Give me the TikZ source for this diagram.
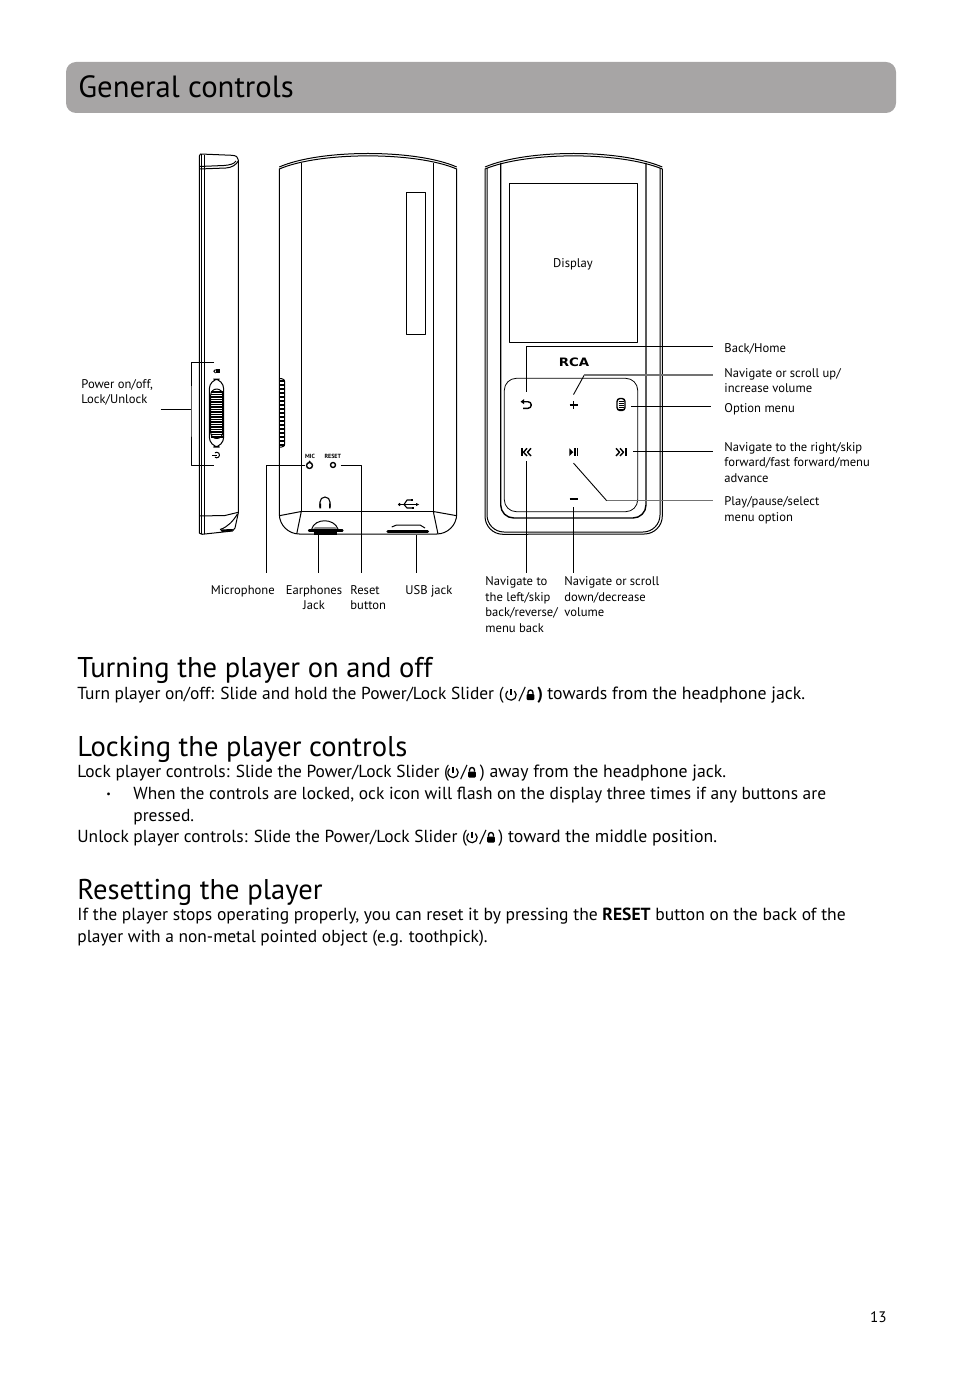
\documentclass[tikz,border=0pt]{standalone}
\usepackage{fontspec}
\setmainfont{PT Sans}
\newfontfamily\logofont[FakeStretch=1.15]{DejaVu Sans Bold}
\usetikzlibrary{calc,arrows.meta}
\newcommand{\labelfont}{\fontsize{6.3}{7.7}\selectfont}
\newcommand{\bodyfont}{\fontsize{8.7}{11}\selectfont}
\newcommand{\tailfont}{\fontsize{8.87}{11}\selectfont}
\newcommand{\headfont}{\fontsize{14.3}{18}\selectfont}
% power and lock signs in the running text
\newcommand{\powerlock}[4]{%
  \draw[line width=0.6pt] ($(#1,#2)+(-50:5.2)$) arc (-50:230:5.2);
  \draw[line width=0.6pt] (#1,#2-6) -- (#1,#2);
  \fill[rounded corners=0.5pt] (#3-3.8,#2-1) rectangle (#3+3.8,#2+5);
  \draw[line width=0.7pt] (#3-2.5,#2-1) -- (#3-2.5,#2-2.5) arc (180:360:2.5) -- (#3+2.5,#2-1);
  \node[bodytext, anchor=center] (#4) at (#1*0.42+#3*0.58,#2) {/};
}
\tikzset{
  bodytext/.style={anchor=base west, inner sep=0pt, font=\bodyfont},
  tailtext/.style={anchor=base west, inner sep=0pt, font=\tailfont},
  headtext/.style={anchor=base west, inner sep=0pt, font=\headfont},
  calltext/.style={anchor=west, inner sep=0pt, align=left, font=\labelfont},
  outline/.style={line width=0.5pt},
  leader/.style={line width=0.45pt},
  paleleader/.style={line width=0.6pt, black!55},
  btn/.style={inner sep=0pt, minimum size=#1},
}
\begin{document}
\begin{tikzpicture}[x=0.5pt, y=-0.5pt, line join=round]
  \useasboundingbox (0,0) rectangle (954,1374);

  % --- title bar ---
  \fill[rounded corners=5pt, fill={rgb,255:red,167;green,165;blue,165}] (66,62) rectangle (896,113);
  \node[headtext, font=\fontsize{15.36}{18}\selectfont] (title) at (78,98) {General controls};

  % --- side view ---
  \draw[outline] (199.3,156) -- (200.5,154) -- (232,155.3) .. controls (236,155.5) and (238.3,157) .. (238.3,160)
    -- (238.3,513) -- (235,528) -- (232.5,531) -- (202,534.3) -- (199.3,533) -- cycle;
  \draw[outline] (201.7,154.5) -- (201.7,534);
  \draw[outline] (204,155) -- (204,533.8);
  \draw[outline] (199.3,166.5) -- (224,165.5) .. controls (230,165) and (234,164) .. (236,161);
  \draw[outline] (199.3,169) -- (226,168) .. controls (232,167.5) and (236,165) .. (238.3,161);
  \draw[outline] (199.3,516) -- (225,515.5) -- (238.3,512.3);
  \draw[outline] (220,529.5) .. controls (228,527) and (233,521) .. (237.5,514);
  \fill (220,529.5) -- (233,529) -- (232,531) -- (222,532) -- cycle;
  % --- slider ---
  \draw[outline, rounded corners=5pt] (209.3,379) rectangle (223.7,447);
  \draw[outline, rounded corners=3pt] (210.7,389) rectangle (222.7,438.5);
  \foreach \ribY in {392,394.5,...,437}
    \draw[line width=0.6pt] (210.7,\ribY) -- (222.7,\ribY);
  % --- lock and power marks ---
  \fill (215.5,369) rectangle (219.5,373.3);
  \draw[line width=0.5pt] (215.5,369.6) arc (-90:-270:1.7);
  \draw[line width=0.5pt] ($(216.7,455)+(-130:2.8)$) arc (-130:130:2.8);
  \draw[line width=0.5pt] (212,455) -- (217,455);

  % --- back view ---
  \draw[outline] (279.3,169) .. controls (320,151.5) and (416,151.5) .. (456.7,169)
    -- (456.7,514) arc (0:90:20) -- (299.3,534) arc (90:180:20) -- cycle;
  \draw[outline] (279.3,167) .. controls (320,149) and (416,149) .. (456.7,167);
  \draw[outline] (301.3,163) -- (301.3,511.5) -- (433.3,511.5) -- (433.3,163);
  \draw[outline] (279.3,515.7) -- (301.3,511.5) -- (296.7,534);
  \draw[outline] (456.7,515.7) -- (433.3,511.5) -- (438,534);
  \draw[outline] (406.7,192.3) rectangle (425.7,334.3);
  % --- grille ---
  \draw[outline, rounded corners=1.5pt] (279.3,378.7) -- (284.7,378.7) -- (284.7,447) -- (279.3,447);
  \foreach \ribY in {381,385,...,446}
    \draw[line width=0.7pt] (279.3,\ribY) -- (284.7,\ribY);
  % --- mic, reset ---
  \node[inner sep=0pt, font=\fontsize{3}{3}\selectfont\bfseries] (mictext) at (310,456) {MIC};
  \node[inner sep=0pt, font=\fontsize{3}{3}\selectfont\bfseries] (resettext) at (332.8,456) {RESET};
  \draw[line width=0.7pt] (309.5,465.5) circle (3);
  \fill (309.5,461.5) circle (1);
  \draw[line width=0.7pt] (333,465) circle (2.5);
  % --- headphone sign, usb sign ---
  \draw[line width=0.55pt] (320,507) -- (320,502) arc (180:360:5) -- (330,507);
  \fill (319.3,503.5) rectangle (321,508.3) (329,503.5) rectangle (330.7,508.3);
  \draw[line width=0.55pt] (400,504.5) -- (417,504.5);
  \draw[line width=0.55pt] (404,504.5) -- (407,500) -- (411,500);
  \draw[line width=0.55pt] (404,504.5) -- (407,508) -- (412,508);
  \fill (399.5,504.5) circle (1.6);
  \fill (411,499) rectangle (413,501);
  \fill (412,507) rectangle (414,509);
  \fill (416,503) -- (419,504.5) -- (416,506) -- cycle;
  % --- jacks ---
  \fill[black!45] (313,529) -- (337,529) -- (335,527) -- (315,527) -- cycle;
  \draw[outline] (311.7,529) .. controls (315,518) and (334,518) .. (338,529);
  \draw[line width=1.1pt, line cap=round] (309,530.5) -- (342.5,530.5);
  \draw[line width=1.1pt] (313.5,533.5) -- (336.5,533.5);
  \draw[outline] (391.7,527) -- (396.7,525) -- (420,525) -- (425,528);
  \draw[line width=1.7pt, line cap=round] (388,531.5) -- (427.5,531.5);

  % --- front view ---
  \draw[outline] (485,169) .. controls (527,151.5) and (620,151.5) .. (662.3,169)
    -- (662.3,516) arc (0:90:18) -- (503,534.3) arc (90:180:18) -- cycle;
  \draw[outline] (485,167) .. controls (527,149) and (620,149) .. (662.3,167);
  \draw[outline] (487,168) -- (487,515) arc (180:90:17) -- (643,532) arc (90:0:17) -- (660,168);
  \draw[line width=0.7pt] (500.7,163) -- (500.7,505) arc (180:90:13) -- (633,518) arc (90:0:13) -- (646,163);
  \draw[outline] (509.3,183.3) rectangle (637.7,342.3);
  \node[inner sep=0pt, font=\fontsize{5.8}{6}\selectfont\logofont] (logo) at (574,362) {RCA};
  \draw[line width=0.4pt, rounded corners=6pt] (504.3,378.3) rectangle (637.7,511.7);
  \node[calltext, anchor=center] (display) at (573,264) {Display};

  % --- buttons ---
  \node[btn=12.7pt] (btnback) at (526.5,405) {};
  \node[btn=10pt] (btnplus) at (573.5,405) {};
  \node[btn=10pt] (btnmenu) at (621,406.3) {};
  \node[btn=8.7pt] (btnprev) at (526.5,452) {};
  \node[btn=10.7pt] (btnplay) at (573.5,452) {};
  \node[btn=12pt] (btnnext) at (621,451.7) {};
  \node[btn=7.7pt] (btnminus) at (573.3,499) {};
  \draw[line width=0.7pt] (523,401.7) -- (528,401.7) arc (-90:90:3.3) -- (523,408.3);
  \fill (520.5,401.7) -- (524,399.2) -- (524,404.2) -- cycle;
  \draw[line width=0.7pt] (569.5,405) -- (577.5,405) (573.5,401) -- (573.5,409);
  \draw[line width=0.7pt, rounded corners=1.5pt] (617,398.5) rectangle (625,410.5);
  \foreach \rowY in {401,403,405,407,409}
    \draw[line width=0.45pt] (618.5,\rowY) -- (623.5,\rowY);
  \draw[line width=0.8pt] (521.7,448.3) -- (521.7,456);
  \draw[line width=0.7pt] (527,448.3) -- (523.5,452.2) -- (527,456) (531,448.3) -- (527.5,452.2) -- (531,456);
  \fill (569.3,448.3) -- (573.3,452.2) -- (569.3,456) -- cycle;
  \draw[line width=0.7pt] (574.8,448.3) -- (574.8,456) (577.2,448.3) -- (577.2,456);
  \draw[line width=0.7pt] (616,448.3) -- (619.5,452.2) -- (616,456) (620,448.3) -- (623.5,452.2) -- (620,456);
  \draw[line width=0.8pt] (625.7,448.3) -- (625.7,456);
  \draw[line width=0.9pt] (569.5,499) -- (577.5,499);

  % --- connector ends ---
  \coordinate (powerjoin) at (191,409);
  \coordinate (powerstub) at (160.5,409);
  \coordinate (powertop) at (214,362);
  \coordinate (powerbot) at (214,465);
  \coordinate (micmark) at (305,465);
  \coordinate (micend) at (266.7,573);
  \coordinate (earjack) at (318,535);
  \coordinate (earend) at (318,573);
  \coordinate (resetmark) at (340.5,465);
  \coordinate (resetend) at (361.7,573);
  \coordinate (usbjack) at (416,535);
  \coordinate (usbend) at (416,573);
  \coordinate (backend) at (713,346.7);
  \coordinate (plusbend) at (584.3,375);
  \coordinate (plusend) at (713,375);
  \coordinate (menuend) at (711,406.3);
  \coordinate (nextend) at (713,451.7);
  \coordinate (playbend) at (606.7,500.7);
  \coordinate (playend) at (713,500.7);
  \coordinate (prevend) at (526.5,573.3);
  \coordinate (minusend) at (573.3,573.3);

  % --- connectors ---
  \draw[leader] (powerstub) -- (powerjoin);
  \draw[leader] (powertop) -| (powerjoin) |- (powerbot);
  \draw[leader] (micmark) -| (micend);
  \draw[leader] (earjack) -- (earend);
  \draw[leader] (resetmark) -| (resetend);
  \draw[leader] (usbjack) -- (usbend);
  \draw[leader] (btnback.north) |- (backend);
  \draw[leader] (btnplus.north) -- (plusbend);
  \draw[paleleader] (plusbend) -- (plusend);
  \draw[leader] (btnmenu.east) -- (menuend);
  \draw[leader] (btnnext.east) -- (nextend);
  \draw[leader] (btnplay.south) -- (playbend);
  \draw[paleleader] (playbend) -- (playend);
  \draw[leader] (btnprev.south) -- (prevend);
  \draw[leader] (btnminus.south) -- (minusend);

  % --- labels ---
  \node[calltext] (lblpower) at (81,392.5) {Power on/off,\\Lock/Unlock};
  \node[calltext] (lblmic) at (210.5,591) {Microphone};
  \node[calltext, anchor=center, align=center] (lblear) at (314,597.5) {Earphones\\Jack};
  \node[calltext] (lblreset) at (350,597.5) {Reset\\button};
  \node[calltext] (lblusb) at (405,591.5) {USB jack};
  \node[calltext] (lblleft) at (485,604.5) {Navigate to\\the left/skip\\back/reverse/\\menu back};
  \node[calltext] (lbldown) at (564,596.8) {Navigate or scroll\\down/decrease\\volume};
  \node[calltext] (lblback) at (724,348.5) {Back/Home};
  \node[calltext] (lblup) at (724,380.5) {Navigate or scroll up/\\increase volume};
  \node[calltext] (lblmenu) at (724,409) {Option menu};
  \node[calltext] (lblright) at (724,462.5) {Navigate to the right/skip\\forward/fast forward/menu\\advance};
  \node[calltext, font=\fontsize{6.3}{8}\selectfont] (lblplay) at (724,510) {Play/pause/select\\menu option};

  % --- text ---
  \node[headtext] (headon) at (77,677) {Turning the player on and off};
  \node[bodytext] (onA) at (77,699) {Turn player on/off: Slide and hold the Power/Lock Slider (};
  \powerlock{511}{695}{530.5}{onslash}
  \node[bodytext] (onparen) at (537,699) {\textbf{)}};
  \node[tailtext] (onB) at (547,699) {towards from the headphone jack.};

  \node[headtext] (headlock) at (77,756) {Locking the player controls};
  \node[bodytext] (lockA) at (77,777) {Lock player controls: Slide the Power/Lock Slider (};
  \powerlock{453}{772.5}{472}{lockslash}
  \node[tailtext] (lockB) at (479.5,777) {) away from the headphone jack.};
  \node[bodytext, font=\fontsize{5}{6}\selectfont] (bullet) at (106,797.5) {•};
  \node[bodytext] (lockC) at (133,799) {When the controls are locked, ock icon will flash on the display three times if any buttons are};
  \node[bodytext] (lockD) at (133,821) {pressed.};
  \node[bodytext] (lockE) at (77,842) {Unlock player controls: Slide the Power/Lock Slider (};
  \powerlock{472}{837.5}{491}{unlockslash}
  \node[tailtext] (lockF) at (498,842) {) toward the middle position.};

  \node[headtext] (headreset) at (77,899) {Resetting the player};
  \node[bodytext, font=\fontsize{8.78}{11}\selectfont] (resetA) at (77,920) {If the player stops operating properly, you can reset it by pressing the \textbf{RESET} button on the back of the};
  \node[bodytext] (resetB) at (77,942) {player with a non-metal pointed object (e.g. toothpick).};

  \node[bodytext, anchor=base east, font=\fontsize{7.6}{9}\selectfont] (pagenum) at (887,1322) {13};
\end{tikzpicture}
\end{document}
